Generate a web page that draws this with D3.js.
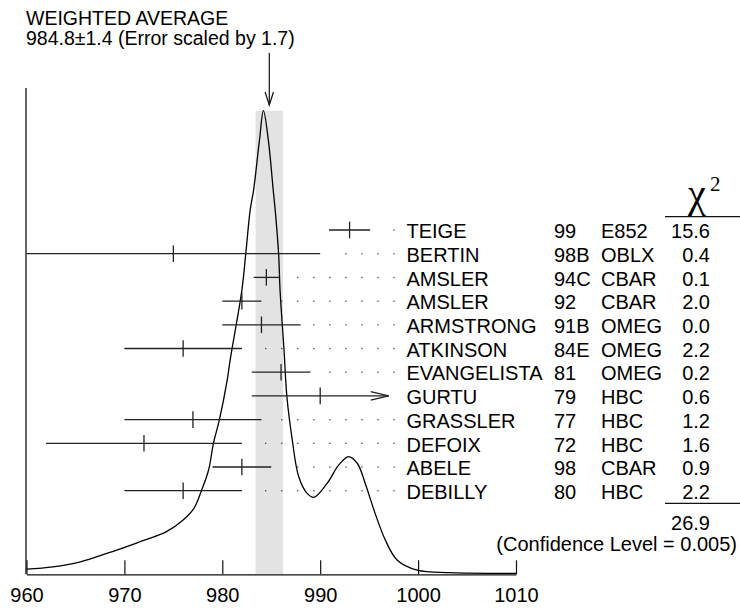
<!DOCTYPE html>
<html>
<head>
<meta charset="utf-8">
<script src="https://cdn.jsdelivr.net/npm/d3@7/dist/d3.min.js"></script>
<style>
  html, body { margin: 0; padding: 0; background: #fff; }
  svg { display: block; font-family: "Liberation Sans", Arial, Helvetica, sans-serif; }
</style>
</head>
<body>
<svg id="chart" width="740" height="609"></svg>
<script>
// ---------------- data ----------------
const names = ["TEIGE","BERTIN","AMSLER","AMSLER","ARMSTRONG","ATKINSON","EVANGELISTA","GURTU","GRASSLER","DEFOIX","ABELE","DEBILLY"];
const years = ["99","98B","94C","92","91B","84E","81","79","77","72","98","80"];
const experiments = ["E852","OBLX","CBAR","CBAR","OMEG","OMEG","OMEG","HBC","HBC","HBC","CBAR","HBC"];
const values = [993.0, 975, 984.5, 982, 984, 976, 986, 990, 977, 972, 982, 976];
const errors = [2.1, 15, 1.3, 2, 4, 6, 3, 7, 7, 10, 3, 6];
const arrowFlags = [0,0,0,0,0,0,0,1,0,0,0,0];
const chi2 = ["15.6","0.4","0.1","2.0","0.0","2.2","0.2","0.6","1.2","1.6","0.9","2.2"];
const chi2Total = "26.9";
const confidenceText = "(Confidence Level = 0.005)";
const average = 984.8;
const averageError = 1.4;
const titleLines = ["WEIGHTED AVERAGE", "984.8\u00b11.4 (Error scaled by 1.7)"];
const xTicks = [960, 970, 980, 990, 1000, 1010];

// ideogram curve (mass, relative height)
const ideogramMass = [960.0, 962.7, 965.5, 968.2, 971.3, 974.3, 976.0, 977.1, 977.9, 978.6, 979.1, 979.7,
  980.5, 980.8, 982.0, 982.4, 982.85, 983.2, 983.8, 984.2, 984.7, 985.2, 985.4, 985.75, 985.9, 986.3,
  986.6, 987.1, 987.8, 988.65, 989.35, 990.7, 991.9, 992.9, 993.8, 994.6, 995.6, 996.65, 997.85, 999.9, 1003.3, 1010.0];
const ideogramHeight = [1.1, 1.6, 2.7, 4.5, 6.8, 9.2, 11.7, 14.2, 18.2, 22.5, 28.3, 33.3,
  41.9, 46.2, 61.3, 69.2, 78.6, 82.9, 93.7, 100, 93.7, 82.9, 78.6, 69.2, 61.3, 48.5,
  38.3, 29.7, 21.1, 17.5, 16.6, 19.6, 23.6, 25.4, 23.9, 19.6, 13.2, 7.4, 3.1, 0.9, 0.35, 0.2];

// ---------------- layout ----------------
const svg = d3.select("#chart");
const axisY = 574.3;
const x = d3.scaleLinear().domain([960, 1010]).range([26.5, 516]);
const y = d3.scaleLinear().domain([0, 100]).range([axisY, 110.7]);
const row = d3.scalePoint().domain(d3.range(names.length)).range([230, 490.7]);
const nameX = 406.5, yearX = 554, expX = 601, chiX = 710;
const ink = "#111";
const sans = "'Liberation Sans', Arial, Helvetica, sans-serif";
const serif = "'Liberation Serif', 'Times New Roman', 'DejaVu Serif', serif";

// gray band for the weighted average
svg.append("rect")
  .attr("x", x(average - averageError))
  .attr("y", y(100))
  .attr("width", x(average + averageError) - x(average - averageError))
  .attr("height", y(0) - y(100))
  .attr("fill", "#e3e3e3");

// title
svg.selectAll("text.title").data(titleLines).join("text")
  .attr("class", "title")
  .attr("x", 26)
  .attr("y", (d, i) => 24.5 + i * 20.5)
  .attr("font-size", 19.5)
  .text(d => d);

// average arrow
const ax = x(average);
svg.append("line").attr("x1", ax).attr("x2", ax).attr("y1", 53).attr("y2", 105)
  .attr("stroke", ink).attr("stroke-width", 1.2);
svg.append("path")
  .attr("d", `M${ax - 4.2},${92}L${ax},${105}L${ax + 4.2},${92}`)
  .attr("fill", "none").attr("stroke", ink).attr("stroke-width", 1.2);

// y axis line
svg.append("line").attr("x1", 26).attr("x2", 26).attr("y1", 88).attr("y2", axisY)
  .attr("stroke", ink).attr("stroke-width", 1.3);

// x axis
const xAxis = d3.axisBottom(x).tickValues(xTicks).tickSizeInner(-14).tickSizeOuter(0)
  .tickPadding(13.5).tickFormat(d3.format("d"));
const gx = svg.append("g").attr("transform", `translate(0,${axisY})`).call(xAxis);
gx.attr("font-family", sans).attr("font-size", 20);
gx.select(".domain").attr("stroke", ink).attr("stroke-width", 1.3);
gx.selectAll(".tick line").attr("stroke", ink).attr("stroke-width", 1.2);
gx.selectAll(".tick text").attr("fill", "#000");

// ideogram curve
const curvePts = ideogramMass.map((m, i) => [m, ideogramHeight[i]]);
svg.append("path")
  .datum(curvePts)
  .attr("d", d3.line().x(d => x(d[0])).y(d => y(d[1])).curve(d3.curveCatmullRom.alpha(0.5)))
  .attr("fill", "none").attr("stroke", "#000").attr("stroke-width", 1.3);

// measurements
const rows = svg.selectAll("g.meas").data(values).join("g").attr("class", "meas");
rows.each(function (v, i) {
  const g = d3.select(this);
  const yy = row(i);
  const lo = Math.max(960, v - errors[i]);
  const hi = Math.min(1010, v + errors[i]);
  const x1 = x(lo), x2 = x(hi);
  g.append("line").attr("x1", x1).attr("x2", x2).attr("y1", yy).attr("y2", yy)
    .attr("stroke", "#222").attr("stroke-width", 1.3);
  g.append("line").attr("x1", x(v)).attr("x2", x(v)).attr("y1", yy - 8.3).attr("y2", yy + 8.3)
    .attr("stroke", "#222").attr("stroke-width", 1.3);
  if (arrowFlags[i]) {
    g.append("path").attr("d", `M${x2 - 18},${yy - 4.3}L${x2},${yy}L${x2 - 18},${yy + 4.3}`)
      .attr("fill", "none").attr("stroke", "#222").attr("stroke-width", 1.2);
  }
  // dotted leader to the label
  const dots = [];
  for (let dx = 394; dx > x2 + 12; dx -= 16.05) dots.push(dx);
  g.selectAll("rect.dot").data(dots).join("rect").attr("class", "dot")
    .attr("x", d => d - 0.6).attr("y", yy - 0.6).attr("width", 1.3).attr("height", 1.3)
    .attr("fill", "#444");
  // labels
  const ty = yy + 8.2;
  g.append("text").attr("x", nameX).attr("y", ty).attr("font-size", 20).text(names[i]);
  g.append("text").attr("x", yearX).attr("y", ty).attr("font-size", 20).text(years[i]);
  g.append("text").attr("x", expX).attr("y", ty).attr("font-size", 20).text(experiments[i]);
  g.append("text").attr("x", chiX).attr("y", ty).attr("font-size", 20)
    .attr("text-anchor", "end").text(chi2[i]);
});

// chi-square header
svg.append("text").attr("x", 688).attr("y", 207)
  .attr("font-family", serif).attr("font-size", 40).text("\u03c7");
svg.append("text").attr("x", 710).attr("y", 191)
  .attr("font-family", serif).attr("font-size", 21).text("2");
svg.append("line").attr("x1", 665).attr("x2", 740).attr("y1", 216.7).attr("y2", 216.7)
  .attr("stroke", ink).attr("stroke-width", 1.2);

// total
svg.append("line").attr("x1", 665).attr("x2", 740).attr("y1", 503.3).attr("y2", 503.3)
  .attr("stroke", ink).attr("stroke-width", 1.2);
svg.append("text").attr("x", chiX).attr("y", 529.5).attr("font-size", 20)
  .attr("text-anchor", "end").text(chi2Total);
svg.append("text").attr("x", 737).attr("y", 551).attr("font-size", 20)
  .attr("text-anchor", "end").text(confidenceText);
</script>
</body>
</html>
